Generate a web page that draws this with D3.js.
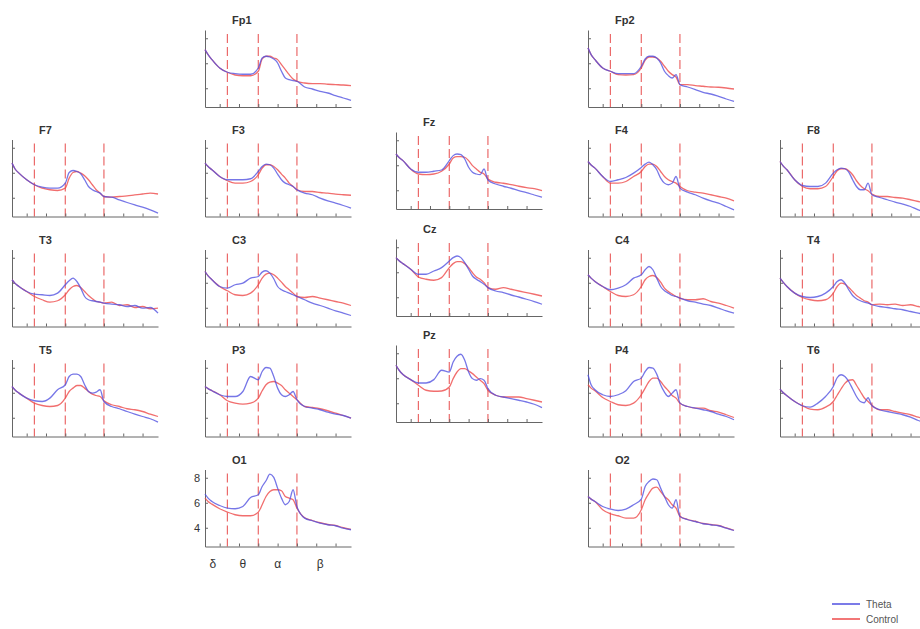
<!DOCTYPE html>
<html>
<head>
<meta charset="utf-8">
<style>
  body { margin: 0; background: #fff; }
  svg { display: block; }
  text { font-family: "Liberation Sans", Arial, sans-serif; }
</style>
<script src="https://cdn.jsdelivr.net/npm/d3@7"></script>
</head>
<body>
<div id="chart"></div>
<script>
// frequency grid (Hz) shared by every channel
var freqs = [1.1, 1.5, 2, 3, 4, 5, 6, 7, 8, 8.5, 9, 9.5, 10, 10.5, 11, 11.5, 12, 12.5, 13, 14, 15, 16, 17, 18, 19, 20]
var bandEdges = [4, 8, 13]
var bandLabels = ["δ", "θ", "α", "β"]
var bandLabelFreqs = [2.1, 6, 10.5, 16]
var yTicks = [4, 6, 8]
var xTicks = [3, 5.5, 8, 10.5, 13, 15.5, 18]
var seriesNames = ["Theta", "Control"]
var channels = ["Fp1", "Fp2", "F7", "F3", "Fz", "F4", "F8", "T3", "C3", "Cz", "C4", "T4", "T5", "P3", "Pz", "P4", "T6", "O1", "O2"]

var Fp1_theta   = [7.09, 6.69, 6.29, 5.62, 5.28, 5.17, 5.12, 5.12, 5.62, 6.42, 6.56, 6.5, 6.34, 6.02, 5.36, 4.82, 4.69, 4.61, 4.56, 4.1, 3.94, 3.75, 3.62, 3.41, 3.22, 3.03]
var Fp1_control = [7.09, 6.69, 6.29, 5.62, 5.28, 5.06, 5.0, 5.0, 5.36, 6.34, 6.56, 6.56, 6.42, 6.29, 5.89, 5.49, 5.09, 4.74, 4.56, 4.42, 4.37, 4.37, 4.32, 4.29, 4.26, 4.21]
var Fp2_theta   = [7.23, 6.69, 6.29, 5.62, 5.36, 5.17, 5.17, 5.17, 5.76, 6.34, 6.56, 6.56, 6.42, 6.02, 5.36, 5.01, 4.82, 5.09, 4.29, 4.1, 3.89, 3.67, 3.54, 3.35, 3.14, 2.95]
var Fp2_control = [7.23, 6.69, 6.29, 5.62, 5.36, 5.09, 5.06, 5.09, 5.62, 6.24, 6.5, 6.5, 6.42, 6.16, 5.76, 5.36, 5.09, 4.9, 4.29, 4.29, 4.21, 4.16, 4.1, 4.08, 4.02, 3.94]
var F7_theta    = [6.77, 6.3, 5.97, 5.44, 5.04, 4.85, 4.77, 4.77, 5.17, 6.02, 6.18, 6.1, 5.92, 5.44, 4.9, 4.64, 4.5, 4.37, 4.1, 4.05, 3.83, 3.62, 3.43, 3.25, 3.03, 2.77]
var F7_control  = [6.77, 6.3, 5.97, 5.44, 5.04, 4.77, 4.64, 4.58, 4.77, 5.57, 6.02, 6.1, 5.97, 5.76, 5.44, 5.04, 4.64, 4.37, 4.1, 4.05, 4.1, 4.15, 4.23, 4.3, 4.37, 4.3]
var F3_theta    = [6.77, 6.5, 6.24, 5.7, 5.44, 5.44, 5.44, 5.52, 6.1, 6.5, 6.69, 6.64, 6.37, 5.89, 5.44, 5.17, 5.04, 4.9, 4.64, 4.37, 4.24, 3.97, 3.75, 3.57, 3.38, 3.17]
var F3_control  = [6.77, 6.5, 6.24, 5.7, 5.36, 5.17, 5.17, 5.3, 5.84, 6.37, 6.64, 6.64, 6.5, 6.24, 5.89, 5.57, 5.17, 4.9, 4.64, 4.5, 4.5, 4.42, 4.37, 4.29, 4.24, 4.2]
var Fz_theta    = [6.9, 6.62, 6.37, 5.7, 5.44, 5.44, 5.52, 5.62, 6.37, 6.77, 6.9, 6.85, 6.5, 5.84, 5.44, 5.3, 5.25, 5.7, 4.82, 4.5, 4.32, 4.16, 3.97, 3.81, 3.62, 3.44]
var Fz_control  = [6.9, 6.62, 6.37, 5.7, 5.3, 5.25, 5.3, 5.52, 6.1, 6.58, 6.69, 6.69, 6.64, 6.37, 5.97, 5.7, 5.44, 5.3, 4.9, 4.64, 4.56, 4.45, 4.32, 4.21, 4.13, 3.97]
var F4_theta    = [6.9, 6.62, 6.37, 5.7, 5.3, 5.44, 5.62, 5.97, 6.42, 6.69, 6.85, 6.64, 6.24, 5.57, 5.17, 5.04, 5.17, 5.7, 4.77, 4.45, 4.24, 3.97, 3.75, 3.57, 3.3, 3.03]
var F4_control  = [6.9, 6.62, 6.37, 5.7, 5.17, 5.17, 5.3, 5.7, 6.1, 6.5, 6.69, 6.69, 6.5, 6.1, 5.7, 5.44, 5.3, 5.17, 4.9, 4.56, 4.45, 4.37, 4.24, 4.1, 3.97, 3.75]
var F8_theta    = [6.9, 6.55, 6.24, 5.44, 4.98, 4.9, 4.9, 5.17, 5.97, 6.24, 6.37, 6.32, 6.05, 5.44, 4.9, 4.64, 4.64, 5.17, 4.24, 4.02, 3.84, 3.65, 3.49, 3.3, 3.03, 2.85]
var F8_control  = [6.9, 6.55, 6.24, 5.44, 4.9, 4.72, 4.72, 4.9, 5.7, 6.16, 6.32, 6.32, 6.16, 5.84, 5.36, 4.98, 4.72, 4.56, 4.29, 4.1, 4.1, 4.02, 3.97, 3.84, 3.7, 3.57]
var T3_theta    = [6.24, 5.95, 5.7, 5.3, 5.09, 5.04, 4.98, 5.17, 5.84, 6.16, 6.37, 6.1, 5.57, 4.9, 4.64, 4.56, 4.5, 4.45, 4.37, 4.29, 4.24, 4.1, 4.18, 3.97, 4.02, 3.57]
var T3_control  = [6.24, 5.95, 5.7, 5.3, 4.9, 4.64, 4.45, 4.56, 5.04, 5.44, 5.7, 5.78, 5.62, 5.3, 4.98, 4.72, 4.5, 4.45, 4.37, 4.45, 4.18, 4.24, 4.02, 4.1, 3.92, 3.97]
var C3_theta    = [6.9, 6.55, 6.24, 5.7, 5.57, 5.84, 5.97, 6.37, 6.5, 6.85, 6.96, 6.77, 6.32, 5.7, 5.44, 5.3, 5.17, 5.04, 4.9, 4.64, 4.37, 4.18, 3.97, 3.75, 3.57, 3.38]
var C3_control  = [6.9, 6.55, 6.24, 5.7, 5.36, 5.04, 4.98, 5.17, 5.84, 6.37, 6.69, 6.77, 6.64, 6.37, 6.05, 5.7, 5.44, 5.17, 4.9, 4.82, 4.9, 4.77, 4.64, 4.5, 4.37, 4.18]
var Cz_theta    = [7.17, 6.92, 6.69, 6.24, 5.84, 5.84, 6.1, 6.37, 6.9, 7.17, 7.3, 7.17, 6.77, 6.24, 5.7, 5.44, 5.25, 5.04, 4.77, 4.5, 4.37, 4.18, 4.02, 3.84, 3.65, 3.44]
var Cz_control  = [7.17, 6.92, 6.69, 6.24, 5.62, 5.44, 5.36, 5.57, 6.37, 6.69, 6.85, 6.85, 6.69, 6.37, 5.97, 5.62, 5.44, 5.17, 4.77, 4.64, 4.77, 4.64, 4.5, 4.37, 4.24, 4.1]
var C4_theta    = [6.64, 6.37, 6.1, 5.7, 5.44, 5.57, 5.84, 6.37, 6.64, 7.04, 7.3, 7.04, 6.37, 5.7, 5.36, 5.17, 4.98, 4.9, 4.77, 4.56, 4.45, 4.29, 4.18, 3.97, 3.75, 3.57]
var C4_control  = [6.64, 6.37, 6.1, 5.7, 5.3, 4.98, 4.9, 5.04, 5.7, 6.24, 6.5, 6.58, 6.42, 6.05, 5.57, 5.3, 5.09, 4.9, 4.77, 4.64, 4.64, 4.72, 4.5, 4.37, 4.18, 3.97]
var T4_theta    = [6.37, 6.05, 5.7, 5.17, 4.9, 4.82, 4.9, 5.17, 5.7, 6.1, 6.24, 5.97, 5.44, 4.98, 4.72, 4.56, 4.45, 4.37, 4.24, 4.1, 4.02, 3.92, 3.84, 3.7, 3.57, 3.44]
var T4_control  = [6.37, 6.05, 5.7, 5.17, 4.82, 4.64, 4.56, 4.64, 5.17, 5.7, 5.97, 5.89, 5.62, 5.3, 4.98, 4.77, 4.56, 4.45, 4.24, 4.29, 4.24, 4.29, 4.18, 4.24, 4.1, 3.97]
var T5_theta    = [6.5, 6.22, 5.97, 5.57, 5.36, 5.3, 5.57, 6.24, 6.64, 7.3, 7.49, 7.49, 7.3, 6.64, 6.1, 5.97, 6.05, 6.24, 5.3, 4.9, 4.72, 4.5, 4.29, 4.1, 3.92, 3.65]
var T5_control  = [6.5, 6.22, 5.97, 5.57, 5.17, 4.98, 4.9, 4.98, 5.57, 6.1, 6.37, 6.58, 6.58, 6.37, 6.1, 5.89, 5.78, 5.7, 5.36, 5.04, 4.9, 4.72, 4.64, 4.5, 4.29, 4.1]
var P3_theta    = [6.5, 6.33, 6.16, 5.84, 5.7, 5.7, 6.1, 7.3, 7.04, 7.7, 8.02, 7.97, 7.3, 6.37, 5.84, 5.7, 5.84, 6.1, 5.44, 4.9, 4.77, 4.64, 4.45, 4.29, 4.18, 3.97]
var P3_control  = [6.5, 6.33, 6.16, 5.84, 5.36, 5.17, 5.09, 5.17, 5.57, 6.16, 6.64, 6.85, 6.9, 6.77, 6.58, 6.24, 5.97, 5.7, 5.44, 4.9, 4.82, 4.72, 4.56, 4.37, 4.18, 3.97]
var Pz_theta    = [7.04, 6.64, 6.3, 5.89, 5.62, 5.62, 5.89, 6.64, 6.5, 7.3, 7.76, 7.92, 7.44, 6.5, 5.97, 5.84, 5.97, 5.84, 5.17, 4.64, 4.5, 4.37, 4.24, 4.1, 3.92, 3.65]
var Pz_control  = [7.04, 6.64, 6.3, 5.89, 5.44, 5.04, 4.96, 4.98, 5.3, 5.97, 6.5, 6.77, 6.77, 6.58, 6.37, 6.1, 5.84, 5.57, 5.04, 4.64, 4.5, 4.5, 4.5, 4.37, 4.24, 4.1]
var P4_theta    = [7.44, 6.64, 6.24, 5.84, 5.7, 5.84, 6.16, 6.9, 7.17, 7.7, 8.02, 7.97, 7.49, 6.64, 6.05, 5.7, 5.97, 6.24, 5.17, 4.9, 4.77, 4.64, 4.5, 4.29, 4.1, 3.84]
var P4_control  = [6.64, 6.37, 6.16, 5.62, 5.3, 5.04, 4.98, 5.17, 5.84, 6.37, 6.9, 7.17, 7.17, 6.9, 6.5, 6.16, 5.78, 5.57, 5.17, 4.9, 4.77, 4.77, 4.56, 4.45, 4.24, 4.02]
var T6_theta    = [6.29, 6.02, 5.76, 5.3, 4.96, 4.85, 5.17, 5.7, 6.5, 7.2, 7.44, 7.3, 6.9, 6.3, 5.7, 5.3, 5.2, 5.6, 4.96, 4.64, 4.5, 4.37, 4.24, 4.05, 3.78, 3.57]
var T6_control  = [6.29, 6.02, 5.76, 5.3, 4.96, 4.69, 4.64, 4.85, 5.3, 5.8, 6.3, 6.75, 7.0, 7.04, 6.6, 6.1, 5.6, 5.3, 5.0, 4.64, 4.64, 4.5, 4.37, 4.24, 4.05, 3.89]
var O1_theta    = [6.7, 6.37, 6.1, 5.78, 5.57, 5.52, 5.7, 6.42, 6.64, 7.3, 7.76, 8.29, 8.03, 7.17, 6.37, 5.84, 6.1, 7.04, 5.7, 4.77, 4.56, 4.37, 4.24, 4.16, 3.97, 3.84]
var O1_control  = [6.37, 6.1, 5.89, 5.52, 5.25, 5.04, 4.96, 4.96, 5.25, 5.84, 6.5, 6.9, 7.04, 7.04, 6.96, 6.5, 6.37, 6.24, 5.57, 4.8, 4.58, 4.4, 4.26, 4.18, 4.0, 3.86]
var O2_theta    = [6.5, 6.29, 6.1, 5.7, 5.49, 5.38, 5.49, 5.84, 6.29, 7.3, 7.7, 7.9, 7.84, 7.17, 6.5, 5.84, 5.57, 6.24, 4.9, 4.64, 4.5, 4.32, 4.24, 4.16, 3.97, 3.78]
var O2_control  = [6.5, 6.29, 6.1, 5.44, 5.12, 4.96, 4.77, 4.77, 5.44, 6.24, 6.77, 7.17, 7.25, 6.9, 6.5, 6.24, 5.84, 5.57, 4.92, 4.66, 4.52, 4.34, 4.26, 4.18, 3.99, 3.8]

// lookup table built from the arrays above
var series = {
    Fp1: [Fp1_theta, Fp1_control], Fp2: [Fp2_theta, Fp2_control],
    F7: [F7_theta, F7_control], F3: [F3_theta, F3_control], Fz: [Fz_theta, Fz_control],
    F4: [F4_theta, F4_control], F8: [F8_theta, F8_control],
    T3: [T3_theta, T3_control], C3: [C3_theta, C3_control], Cz: [Cz_theta, Cz_control],
    C4: [C4_theta, C4_control], T4: [T4_theta, T4_control],
    T5: [T5_theta, T5_control], P3: [P3_theta, P3_control], Pz: [Pz_theta, Pz_control],
    P4: [P4_theta, P4_control], T6: [T6_theta, T6_control],
    O1: [O1_theta, O1_control], O2: [O2_theta, O2_control]
}

// layout: scalp grid position of each electrode [column, row]
var grid = {
    Fp1: [1, 0], Fp2: [3, 0],
    F7: [0, 1], F3: [1, 1], Fz: [2, 1], F4: [3, 1], F8: [4, 1],
    T3: [0, 2], C3: [1, 2], Cz: [2, 2], C4: [3, 2], T4: [4, 2],
    T5: [0, 3], P3: [1, 3], Pz: [2, 3], P4: [3, 3], T6: [4, 3],
    O1: [1, 4], O2: [3, 4]
}
var colX = [12, 205, 396, 588, 780]
var rowBottom = [107, 216.5, 326.5, 436.5, 546.5]
var midShift = [0, -7.5, -10.5, -14.5, 0]   // the midline column sits a little higher

var width = 920, height = 629
var pw = 146, ph = 77
var colors = ["#4f4fe0", "#ee4a4a"]

var svg = d3.select("#chart")
    .append("svg")
    .attr("width", width)
    .attr("height", height)

var x = d3.scaleLinear().domain([1.1, 20]).range([0, pw])
var y = d3.scaleLinear().domain([2.5, 2.5 + ph / 12.5]).range([ph, 0])

var line = d3.line()
    .x(function (d) { return x(d[0]) })
    .y(function (d) { return y(d[1]) })
    .curve(d3.curveMonotoneX)

channels.forEach(function (ch) {
    var c = grid[ch][0], r = grid[ch][1]
    var bottom = rowBottom[r] + (c == 2 ? midShift[r] : 0)
    var g = svg.append("g")
        .attr("transform", "translate(" + colX[c] + "," + (bottom - ph) + ")")

    // band boundaries
    g.selectAll(".band")
        .data(bandEdges)
        .enter().append("line")
        .attr("x1", function (d) { return x(d) })
        .attr("x2", function (d) { return x(d) })
        .attr("y1", 4)
        .attr("y2", ph)
        .attr("stroke", "#e85050")
        .attr("stroke-opacity", 0.85)
        .attr("stroke-width", 1.2)
        .attr("stroke-dasharray", "9,4")

    // axes
    var xAxis = d3.axisBottom(x).tickValues(xTicks).tickSize(-3).tickSizeOuter(0).tickFormat("")
    var yAxis = d3.axisLeft(y).tickValues(yTicks).tickSize(-3).tickSizeOuter(0).tickPadding(5)
        .tickFormat(ch == "O1" ? d3.format("d") : "")

    var xg = g.append("g").attr("transform", "translate(0," + ph + ")").call(xAxis)
    var yg = g.append("g").call(yAxis)
    svg.selectAll(".domain, .tick line").attr("stroke", "#666")
    yg.selectAll("text").attr("font-size", 11).attr("fill", "#333")
        .attr("font-family", "Liberation Sans, Arial, sans-serif")

    // spectra: control first, theta on top
    ;[1, 0].forEach(function (k) {
        var pts = freqs.map(function (f, i) { return [f, series[ch][k][i]] })
        g.append("path")
            .datum(pts)
            .attr("d", line)
            .attr("fill", "none")
            .attr("stroke", colors[k])
            .attr("stroke-width", 1.3)
            .attr("stroke-opacity", k == 0 ? 0.78 : 0.8)
    })

    g.append("text")
        .attr("x", 27)
        .attr("y", -6)
        .attr("font-size", 11)
        .attr("font-weight", "bold")
        .attr("fill", "#333")
        .text(ch)

    if (ch == "O1") {
        g.selectAll(".bandlabel")
            .data(bandLabels)
            .enter().append("text")
            .attr("x", function (d, i) { return x(bandLabelFreqs[i]) })
            .attr("y", ph + 21)
            .attr("text-anchor", "middle")
            .attr("font-size", 12)
            .attr("fill", "#333")
            .text(function (d) { return d })
    }
})

// legend
var legend = svg.append("g").attr("transform", "translate(832,604)")
seriesNames.forEach(function (name, i) {
    legend.append("line")
        .attr("x1", 0).attr("x2", 28)
        .attr("y1", i * 15).attr("y2", i * 15)
        .attr("stroke", colors[i])
        .attr("stroke-width", 1.5)
    legend.append("text")
        .attr("x", 34)
        .attr("y", i * 15 + 3.5)
        .attr("font-size", 10)
        .attr("fill", "#555")
        .text(name)
})
</script>
</body>
</html>
